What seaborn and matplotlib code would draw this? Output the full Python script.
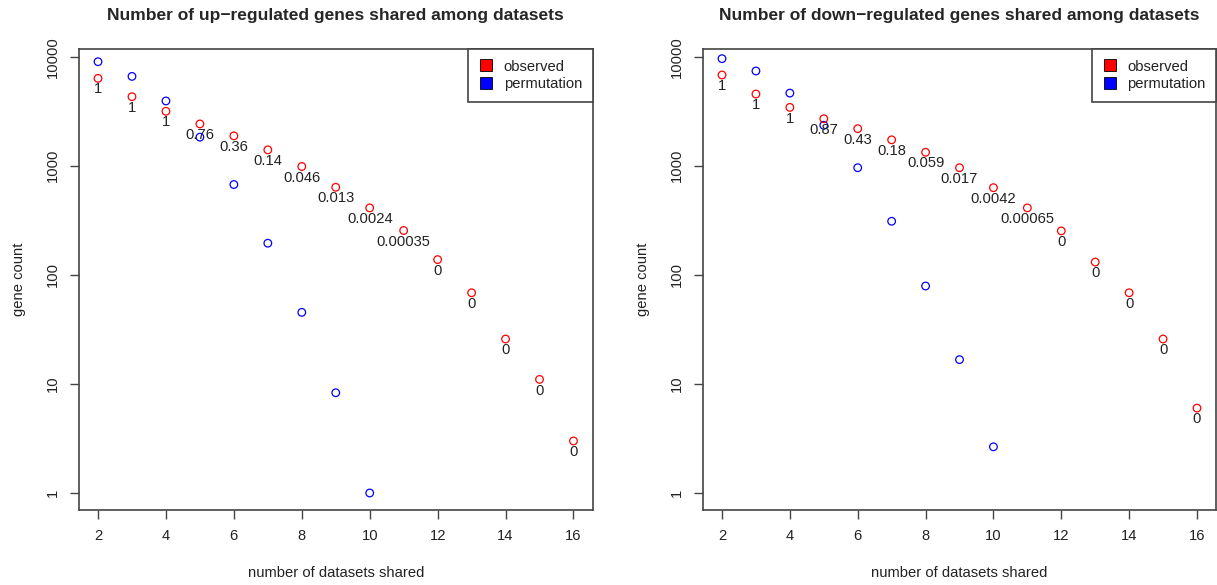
import numpy as np
import pandas as pd
import matplotlib
matplotlib.use("Agg")
import matplotlib.pyplot as plt
import seaborn as sns
from matplotlib.lines import Line2D

# ---- data ----
datasets = [2, 3, 4, 5, 6, 7, 8, 9, 10, 11, 12, 13, 14, 15, 16]

up_observed = [6330, 4300, 3160, 2420, 1880, 1400, 985, 635, 411, 255, 138, 68.5, 25.8, 11, 3]
up_permutation = [9000, 6600, 3930, 1830, 673, 195, 45.3, 8.3, 1.0, 0, 0, 0, 0, 0, 0]
up_pvalues = ["1", "1", "1", "0.76", "0.36", "0.14", "0.046", "0.013", "0.0024",
              "0.00035", "0", "0", "0", "0", "0"]

down_observed = [6800, 4550, 3430, 2700, 2190, 1730, 1330, 960, 630, 411, 253, 131, 68.5, 25.8, 6]
down_permutation = [9600, 7400, 4640, 2350, 960, 310, 79, 16.7, 2.65, 0, 0, 0, 0, 0, 0]
down_pvalues = ["1", "1", "1", "0.87", "0.43", "0.18", "0.059", "0.017", "0.0042",
                "0.00065", "0", "0", "0", "0", "0"]

titles = ["Number of up\u2212regulated genes shared among datasets",
          "Number of down\u2212regulated genes shared among datasets"]
legend_labels = ["observed", "permutation"]
xticks = [2, 4, 6, 8, 10, 12, 14, 16]
yticks = [1, 10, 100, 1000, 10000]

# ---- style ----
sns.set_style("white")
plt.rcParams["font.family"] = ["Liberation Sans", "DejaVu Sans"]
FS = 10.6
SPINE = "#444444"

fig = plt.figure(figsize=(12.17, 5.85), dpi=100)
W, H = 1217, 585
ax_pos = [
    [79 / W, 1 - 510 / H, (592.5 - 79) / W, (510 - 49.3) / H],
    [703 / W, 1 - 510 / H, (1216 - 703) / W, (510 - 49.3) / H],
]

panels = [
    (up_observed, up_permutation, up_pvalues),
    (down_observed, down_permutation, down_pvalues),
]

for i, (obs, perm, pv) in enumerate(panels):
    ax = fig.add_axes(ax_pos[i])
    df = pd.DataFrame({"x": datasets, "observed": obs, "permutation": perm, "p": pv})
    df_obs = df[df["observed"] > 0]
    df_perm = df[df["permutation"] > 0]

    sns.scatterplot(data=df_perm, x="x", y="permutation", ax=ax, color="blue",
                    facecolor="none", edgecolor="blue", linewidth=0.9, s=30,
                    marker="o", legend=False, zorder=3)
    sns.scatterplot(data=df_obs, x="x", y="observed", ax=ax, color="red",
                    facecolor="none", edgecolor="red", linewidth=0.9, s=30,
                    marker="o", legend=False, zorder=3)

    for _, row in df_obs.iterrows():
        ax.annotate(row["p"], (row["x"], row["observed"]), xytext=(0, -8),
                    textcoords="offset points", ha="center", va="center",
                    fontsize=FS, color="#222222", zorder=4)

    ax.set_yscale("log")
    ax.set_xlim(1.44, 16.56)
    ax.set_ylim(10 ** -0.156, 10 ** 4.068)
    ax.set_xticks(xticks)
    ax.set_xticklabels([str(t) for t in xticks])
    ax.set_yticks(yticks)
    ax.set_yticklabels([str(t) for t in yticks], rotation=90, va="center")
    ax.yaxis.set_minor_locator(matplotlib.ticker.NullLocator())

    ax.tick_params(axis="both", which="major", direction="out", length=6.5, width=1.0,
                   color=SPINE, labelsize=FS, labelcolor="#222222",
                   bottom=True, left=True, top=False, right=False)
    ax.tick_params(axis="x", pad=7.0)
    ax.tick_params(axis="y", pad=7.5)
    for sp in ax.spines.values():
        sp.set_visible(True)
        sp.set_color(SPINE)
        sp.set_linewidth(1.2)

    ax.set_xlabel("number of datasets shared", fontsize=FS, color="#222222")
    ax.set_ylabel("gene count", fontsize=FS, color="#222222")
    ax.xaxis.set_label_coords(0.5, -(572.7 - 510) / (510 - 49.3))
    ax.xaxis.label.set_va("center")
    ax.yaxis.set_label_coords(-(79 - 19) / (592.5 - 79), 0.5)
    ax.yaxis.label.set_va("center")

    ax.set_title(titles[i], fontsize=12.5, fontweight="bold", pad=0, y=1.0)
    ax.title.set_position((0.5, 1 + (49.3 - 15) / (510 - 49.3)))
    ax.title.set_va("center")

    handles = [
        Line2D([], [], linestyle="none", marker="s", markersize=8,
               markerfacecolor="red", markeredgecolor="black", markeredgewidth=0.6),
        Line2D([], [], linestyle="none", marker="s", markersize=8,
               markerfacecolor="blue", markeredgecolor="black", markeredgewidth=0.6),
    ]
    leg = ax.legend(handles, legend_labels, loc="upper right", borderaxespad=0,
                    fontsize=FS, frameon=True, fancybox=False, framealpha=1,
                    edgecolor=SPINE, handlelength=1.0, handletextpad=0.7,
                    labelspacing=0.25, borderpad=0.7)
    leg.get_frame().set_linewidth(1.2)
    for t in leg.get_texts():
        t.set_color("#222222")

fig.savefig("out.png", dpi=100)
